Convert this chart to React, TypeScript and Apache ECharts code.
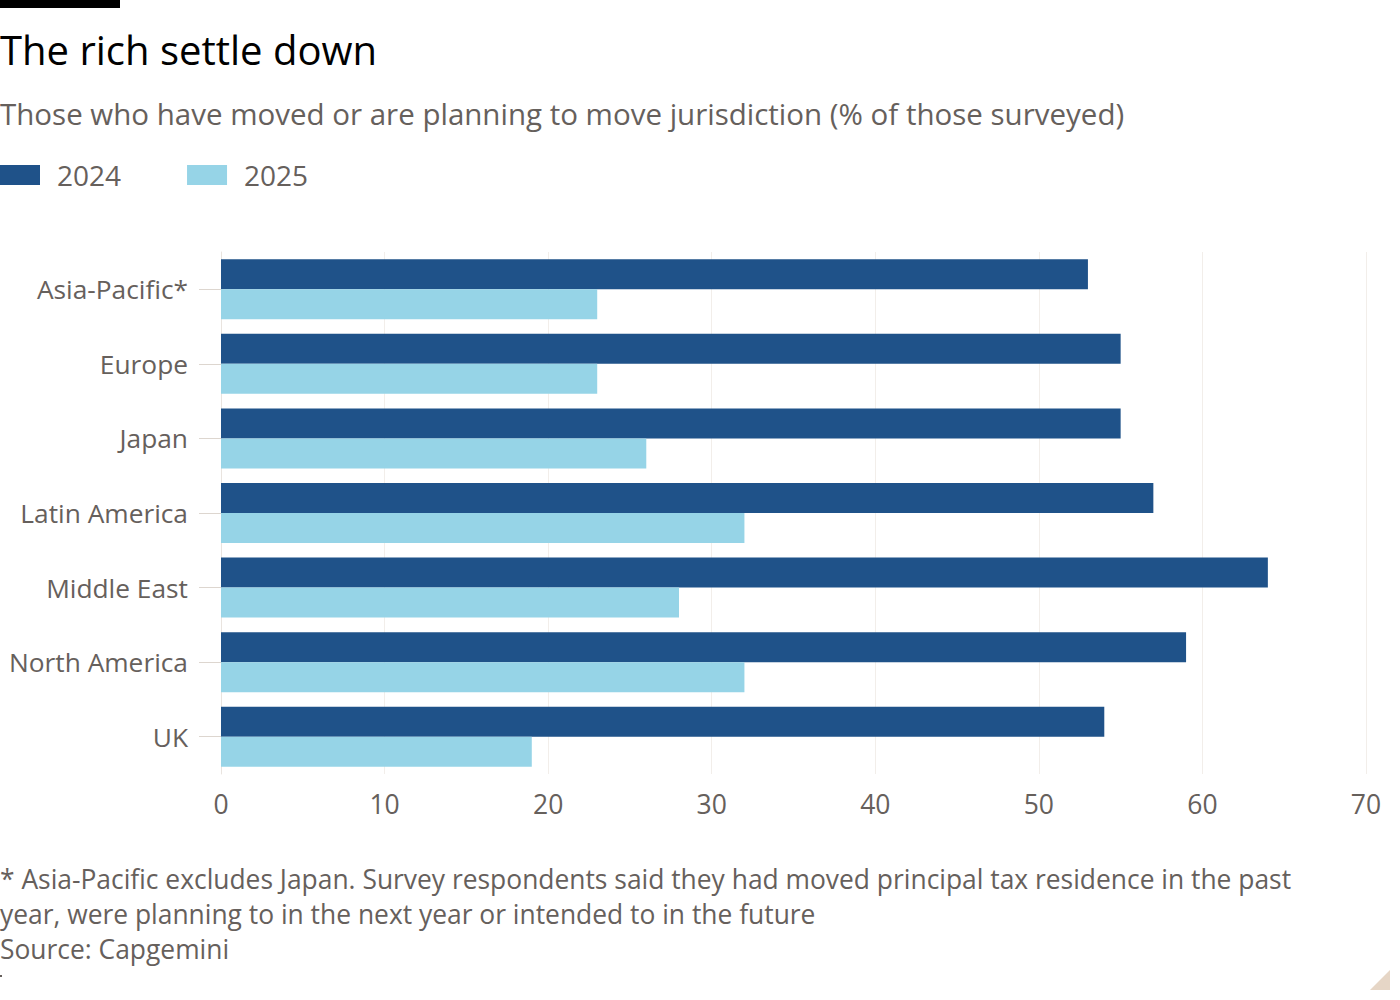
import React, { useEffect, useRef } from "react";
import * as echarts from "echarts";

const regions = ["Asia-Pacific*", "Europe", "Japan", "Latin America", "Middle East", "North America", "UK"];
const values2024 = [53, 55, 55, 57, 64, 59, 54];
const values2025 = [23, 23, 26, 32, 28, 32, 19];
const xTicks = [0, 10, 20, 30, 40, 50, 60, 70];

const FONT = "'Open Sans', 'Noto Sans', sans-serif";
const GREY = "#66605c";
const DARK = "#1f5289";
const LIGHT = "#96d4e7";

const footnoteLines = [
  "* Asia-Pacific excludes Japan. Survey respondents said they had moved principal tax residence in the past",
  "year, were planning to in the next year or intended to in the future",
  "Source: Capgemini",
];

export default function App() {
  const ref = useRef<HTMLDivElement>(null);

  useEffect(() => {
    if (!ref.current) return;
    const chart = echarts.init(ref.current, undefined, { renderer: "svg" });
    chart.setOption({
      animation: false,
      backgroundColor: "#ffffff",
      textStyle: { fontFamily: FONT },
      legend: {
        left: 0,
        top: 161,
        padding: 0,
        itemWidth: 40,
        itemHeight: 20,
        itemGap: 66,
        icon: "rect",
        textStyle: { fontFamily: FONT, fontSize: 28, lineHeight: 20, color: GREY, padding: [0, 0, 0, 12] },
        data: ["2024", "2025"],
      },
      grid: { left: 221, right: 34, top: 252, height: 522, containLabel: false },
      xAxis: {
        type: "value",
        min: 0,
        max: 70,
        interval: 10,
        axisLine: { show: false },
        axisTick: { show: false },
        splitLine: { show: true, lineStyle: { color: "#f2eeea", width: 1 } },
        axisLabel: {
          margin: 16,
          fontFamily: FONT,
          fontSize: 26.5,
          color: GREY,
          formatter: (v: number) => (xTicks.includes(v) ? String(v) : ""),
        },
      },
      yAxis: {
        type: "category",
        inverse: true,
        data: regions,
        axisLine: { show: true, lineStyle: { color: "#e9e4df" } },
        axisTick: { show: true, alignWithLabel: true, length: 22, lineStyle: { color: "#ddd6cf" } },
        axisLabel: { margin: 33, fontFamily: FONT, fontSize: 26.3, color: GREY },
      },
      series: [
        {
          name: "2024",
          type: "bar",
          data: values2024,
          barWidth: 30,
          barGap: "0%",
          itemStyle: { color: DARK },
        },
        {
          name: "2025",
          type: "bar",
          data: values2025,
          barWidth: 30,
          barGap: "0%",
          itemStyle: { color: LIGHT },
        },
      ],
      graphic: [
        { type: "rect", x: 0, y: 0, shape: { x: 0, y: 0, width: 120, height: 8 }, style: { fill: "#000000" } },
        {
          type: "text",
          x: 0,
          y: 49,
          style: {
            text: "The rich settle down",
            font: `40px ${FONT}`,
            fill: "#000000",
            align: "left",
            verticalAlign: "middle",
          },
        },
        {
          type: "text",
          x: 0,
          y: 113,
          style: {
            text: "Those who have moved or are planning to move jurisdiction (% of those surveyed)",
            font: `29.5px ${FONT}`,
            fill: GREY,
            align: "left",
            verticalAlign: "middle",
          },
        },
        ...footnoteLines.map((line, i) => ({
          type: "text",
          x: 0,
          y: 879 + i * 35,
          style: {
            text: line,
            font: `26.4px ${FONT}`,
            fill: GREY,
            align: "left",
            verticalAlign: "middle",
          },
        })),
        { type: "rect", x: 0, y: 975, shape: { x: 0, y: 0, width: 2, height: 2 }, style: { fill: GREY } },
        {
          type: "polygon",
          shape: { points: [[1370, 990], [1390, 970], [1390, 990]] },
          style: { fill: "#e6d6c6" },
        },
      ],
    });
    return () => chart.dispose();
  }, []);

  return <div ref={ref} style={{ position: "absolute", left: 0, top: 0, width: 1400, height: 1000 }} />;
}
